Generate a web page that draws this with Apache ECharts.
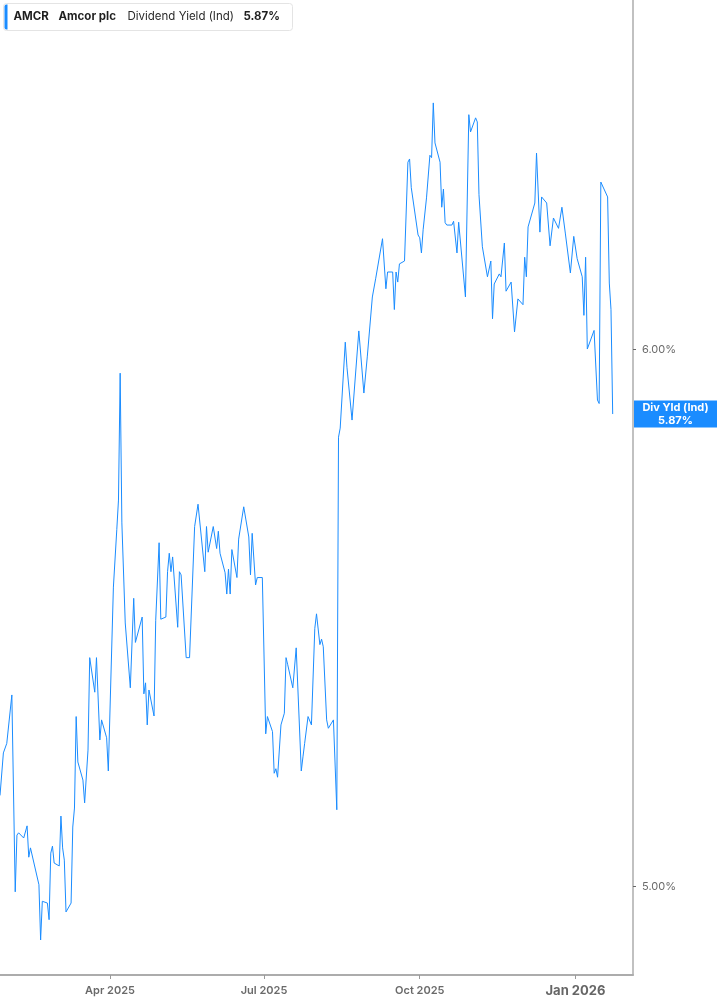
<!DOCTYPE html>
<html>
<head>
<meta charset="utf-8">
<title>AMCR Dividend Yield</title>
<script src="https://cdn.jsdelivr.net/npm/echarts@6/dist/echarts.min.js"></script>
<style>
  html, body { margin: 0; padding: 0; background: #fff; }
  #chart { width: 717px; height: 1005px; }
</style>
</head>
<body>
<div id="chart"></div>
<script>
var ticker = "AMCR";
var company = "Amcor plc";
var metric = "Dividend Yield (Ind)";
var tagName = "Div Yld (Ind)";

// daily dividend yield, %
var dates = [
  "2025-01-26","2025-01-28","2025-01-29","2025-01-30","2025-02-02","2025-02-04","2025-02-05","2025-02-06","2025-02-09","2025-02-11",
  "2025-02-12","2025-02-13","2025-02-18","2025-02-19","2025-02-20","2025-02-23","2025-02-24","2025-02-25","2025-02-26","2025-02-27",
  "2025-03-02","2025-03-03","2025-03-04","2025-03-05","2025-03-06","2025-03-09","2025-03-10","2025-03-11","2025-03-12","2025-03-13",
  "2025-03-16","2025-03-17","2025-03-19","2025-03-20","2025-03-23","2025-03-24","2025-03-26","2025-03-27","2025-03-30","2025-03-31",
  "2025-04-01","2025-04-03","2025-04-05","2025-04-06","2025-04-07","2025-04-08","2025-04-09","2025-04-10","2025-04-13","2025-04-15",
  "2025-04-16","2025-04-20","2025-04-21","2025-04-22","2025-04-23","2025-04-24","2025-04-27","2025-04-28","2025-04-30","2025-05-01",
  "2025-05-04","2025-05-05","2025-05-06","2025-05-07","2025-05-08","2025-05-11","2025-05-12","2025-05-13","2025-05-16","2025-05-18",
  "2025-05-21","2025-05-23","2025-05-27","2025-05-28","2025-05-29","2025-06-01","2025-06-03","2025-06-04","2025-06-05","2025-06-08",
  "2025-06-09","2025-06-10","2025-06-11","2025-06-12","2025-06-15","2025-06-16","2025-06-19","2025-06-22","2025-06-23","2025-06-24",
  "2025-06-26","2025-06-27","2025-06-30","2025-07-02","2025-07-03","2025-07-06","2025-07-07","2025-07-08","2025-07-09","2025-07-11",
  "2025-07-13","2025-07-14","2025-07-15","2025-07-18","2025-07-20","2025-07-23","2025-07-24","2025-07-25","2025-07-27","2025-07-29",
  "2025-07-31","2025-08-01","2025-08-03","2025-08-04","2025-08-05","2025-08-07","2025-08-08","2025-08-11","2025-08-13","2025-08-14",
  "2025-08-15","2025-08-18","2025-08-19","2025-08-22","2025-08-26","2025-08-29","2025-08-31","2025-09-03","2025-09-04","2025-09-05",
  "2025-09-09","2025-09-11","2025-09-12","2025-09-15","2025-09-16","2025-09-17","2025-09-18","2025-09-19","2025-09-22","2025-09-24",
  "2025-09-25","2025-09-26","2025-09-30","2025-10-01","2025-10-02","2025-10-03","2025-10-05","2025-10-07","2025-10-08","2025-10-09",
  "2025-10-10","2025-10-13","2025-10-14","2025-10-15","2025-10-16","2025-10-17","2025-10-20","2025-10-21","2025-10-22","2025-10-23",
  "2025-10-24","2025-10-28","2025-10-30","2025-10-31","2025-11-03","2025-11-04","2025-11-05","2025-11-06","2025-11-07","2025-11-10",
  "2025-11-12","2025-11-13","2025-11-14","2025-11-17","2025-11-18","2025-11-20","2025-11-21","2025-11-24","2025-11-26","2025-11-28",
  "2025-12-01","2025-12-02","2025-12-03","2025-12-04","2025-12-08","2025-12-09","2025-12-11","2025-12-12","2025-12-15","2025-12-17",
  "2025-12-19","2025-12-22","2025-12-24","2025-12-26","2025-12-29","2025-12-31","2026-01-02","2026-01-05","2026-01-06","2026-01-07",
  "2026-01-08","2026-01-12","2026-01-14","2026-01-15","2026-01-16","2026-01-20","2026-01-21","2026-01-22","2026-01-23"
];
var yields = [
  5.157,5.232,5.234,5.249,5.336,4.991,5.088,5.092,5.083,5.104,
  5.050,5.066,5.003,4.910,4.975,4.972,4.944,5.057,5.069,5.040,
  5.035,5.121,5.066,5.045,4.957,4.972,5.102,5.135,5.297,5.216,
  5.184,5.144,5.237,5.404,5.341,5.404,5.255,5.291,5.259,5.200,
  5.202,5.535,5.644,5.701,5.952,5.657,5.655,5.468,5.349,5.514,
  5.432,5.479,5.338,5.358,5.282,5.345,5.298,5.473,5.619,5.475,
  5.479,5.564,5.599,5.564,5.592,5.460,5.564,5.558,5.404,5.404,
  5.650,5.693,5.564,5.650,5.601,5.650,5.608,5.641,5.599,5.562,
  5.522,5.569,5.522,5.606,5.553,5.626,5.688,5.630,5.558,5.637,
  5.539,5.553,5.553,5.266,5.297,5.270,5.196,5.204,5.189,5.282,
  5.303,5.404,5.391,5.349,5.422,5.200,5.225,5.249,5.297,5.282,
  5.458,5.485,5.428,5.438,5.424,5.291,5.276,5.291,5.132,5.824,
  5.842,6.015,5.964,5.858,6.038,5.912,5.985,6.108,6.110,6.147,
  6.230,6.125,6.160,6.160,6.082,6.160,6.139,6.177,6.183,6.394,
  6.401,6.339,6.238,6.232,6.200,6.249,6.317,6.409,6.404,6.524,
  6.436,6.394,6.297,6.336,6.264,6.259,6.259,6.267,6.265,6.200,
  6.265,6.108,6.498,6.460,6.491,6.482,6.324,6.326,6.213,6.150,
  6.183,6.063,6.135,6.156,6.150,6.221,6.120,6.139,6.036,6.104,
  6.092,6.191,6.150,6.255,6.306,6.414,6.244,6.319,6.306,6.215,
  6.274,6.252,6.297,6.242,6.158,6.235,6.188,6.150,6.070,6.191,
  6.001,6.039,5.898,5.891,6.351,6.319,6.137,6.082,5.870
];

var xTickDates = ["2025-04-01", "2025-07-01", "2025-10-01", "2026-01-01"];
var xTickLabels = ["Apr 2025", "Jul 2025", "Oct 2025", "Jan 2026"];
var yTicks = [5, 6];

var lineColor = "#1a8cff";
var lastYield = yields[yields.length - 1];

function parseDay(s) {
  var p = s.split("-");
  return new Date(+p[0], +p[1] - 1, +p[2]).getTime();
}

var xTickTimes = xTickDates.map(parseDay);

var chart = echarts.init(document.getElementById("chart"), null, { renderer: "canvas" });

var option = {
  animation: false,
  backgroundColor: "#fff",
  grid: { left: 0, right: 84, top: 0, bottom: 30, outerBoundsMode: "none", containLabel: false },
  xAxis: {
    type: "value",
    min: parseDay("2025-01-26"),
    max: parseDay("2026-02-04"),
    axisLine: { show: true, lineStyle: { color: "#acacac", width: 2 } },
    axisTick: {
      show: true,
      customValues: xTickTimes,
      length: 4,
      lineStyle: { color: "#9a9a9a", width: 1 }
    },
    axisLabel: {
      customValues: xTickTimes,
      margin: 10,
      fontFamily: "Inter",
      fontSize: 11,
      fontWeight: 600,
      color: "#6a6a6a",
      formatter: function (val) {
        var i = xTickTimes.indexOf(val);
        if (i < 0) return "";
        return xTickLabels[i].indexOf("Jan") === 0 ? "{yr|" + xTickLabels[i] + "}" : xTickLabels[i];
      },
      rich: {
        yr: { fontFamily: "Inter", fontSize: 13, fontWeight: "bold", color: "#666" }
      }
    },
    splitLine: { show: false }
  },
  yAxis: [
    {
      type: "log",
      logBase: 10,
      position: "right",
      min: 4.852,
      max: 6.756,
      axisLine: { show: true, lineStyle: { color: "#acacac", width: 1.5 } },
      axisTick: { show: true, customValues: yTicks, length: 3, lineStyle: { color: "#666" } },
      axisLabel: {
        customValues: yTicks,
        margin: 9,
        fontFamily: "Inter",
        fontSize: 11,
        color: "#6a6a6a",
        formatter: function (v) { return v.toFixed(2) + "%"; }
      },
      splitLine: { show: false }
    },
    {
      type: "log",
      logBase: 10,
      position: "right",
      min: 4.852,
      max: 6.756,
      axisLine: { show: false },
      axisTick: { show: false },
      splitLine: { show: false },
      axisLabel: {
        customValues: [lastYield],
        margin: 1,
        backgroundColor: lineColor,
        padding: [1, 0, 1, 0],
        formatter: function (v) {
          return "{t|" + tagName + "}\n{t|" + lastYield.toFixed(2) + "%}";
        },
        rich: {
          t: { width: 83, align: "center", color: "#fff", fontFamily: "Inter", fontSize: 11, fontWeight: "bold", lineHeight: 12.5 }
        }
      }
    }
  ],
  series: [
    {
      type: "line",
      yAxisIndex: 0,
      data: dates.map(function (d, i) { return [parseDay(d), yields[i]]; }),
      showSymbol: false,
      lineStyle: { color: lineColor, width: 1 },
      itemStyle: { color: lineColor }
    }
  ],
  graphic: [
    {
      type: "group",
      left: 3,
      top: 3,
      children: [
        { type: "rect", shape: { x: 0, y: 0, width: 289, height: 27, r: 3 }, style: { fill: "#fff", stroke: "#e4e4e4", lineWidth: 1 } },
        { type: "rect", shape: { x: 1, y: 1, width: 3, height: 25, r: [2, 0, 0, 2] }, style: { fill: lineColor } },
        { type: "text", x: 10, y: 7.5, style: { text: ticker, font: "bold 11.5px Inter", fill: "#1f1f1f" } },
        { type: "text", x: 55, y: 7.5, style: { text: company, font: "bold 11.5px Inter", fill: "#1f1f1f" } },
        { type: "text", x: 124, y: 7.5, style: { text: metric, font: "11.5px Inter", fill: "#2a2a2a" } },
        { type: "text", x: 240, y: 7.5, style: { text: lastYield.toFixed(2) + "%", font: "bold 11.5px Inter", fill: "#1f1f1f" } }
      ]
    }
  ]
};

chart.setOption(option);
</script>
</body>
</html>
